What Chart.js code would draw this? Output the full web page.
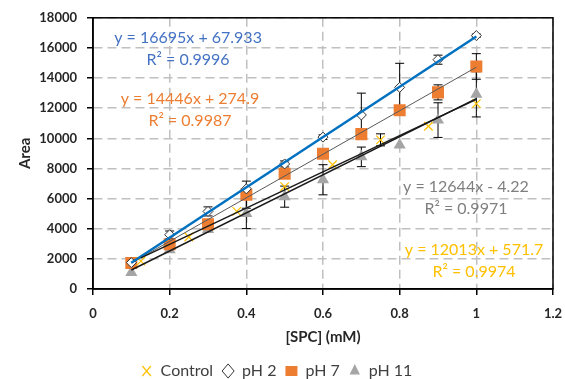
<!DOCTYPE html>
<html>
<head>
<meta charset="utf-8">
<script src="https://cdn.jsdelivr.net/npm/chart.js@4.4.1/dist/chart.umd.min.js"></script>
<style>
html, body { margin: 0; padding: 0; background: #fff; }
</style>
</head>
<body>
<canvas id="grafica" width="565" height="379"></canvas>
<script>
// concentraciones [SPC] (mM)
const xPh = [0.1, 0.2, 0.3, 0.4, 0.5, 0.6, 0.7, 0.8, 0.9, 1.0];
const xControl = [0.125, 0.25, 0.375, 0.5, 0.625, 0.75, 0.875, 1.0];

// areas
const control = [1850, 3450, 5150, 6800, 8250, 9900, 10800, 12300];
const ph2 = [1750, 3600, 5150, 6650, 8300, 10080, 11550, 13380, 15220, 16820];
const ph7 = [1720, 2970, 4300, 6260, 7650, 8970, 10280, 11870, 13050, 14770];
const ph11 = [1100, 2600, 3950, 5010, 6130, 7250, 8770, 9560, 11210, 12920];

// barras de error (+/-)
const controlErr = [0, 0, 0, 0, 0, 400, 0, 0];
const ph2Err = [0, 250, 300, 0, 200, 150, 1450, 1600, 300, 100];
const ph7Err = [0, 0, 0, 900, 300, 0, 0, 0, 500, 850];
const ph11Err = [0, 0, 0, 1000, 700, 1000, 650, 0, 1150, 1500];

// lineas de tendencia (extremos)
const trendX = [0.1, 1.0];
const trendControlX = [0.125, 1.0];
const trendControl = [2070, 12590];
const trendPh2 = [1740, 16760];
const trendPh7 = [1720, 14720];
const trendPh11 = [1260, 12640];

// ecuaciones
const ecuaciones = [
  ["y = 16695x + 67.933", "R\u00B2 = 0.9996"],
  ["y = 14446x + 274.9", "R\u00B2 = 0.9987"],
  ["y = 12644x - 4.22", "R\u00B2 = 0.9971"],
  ["y = 12013x + 571.7", "R\u00B2 = 0.9974"]
];

const etiquetas = ["Control", "pH 2", "pH 7", "pH 11"];
const xTicks = [0, 0.2, 0.4, 0.6, 0.8, 1.0, 1.2];
const yTicks = [0, 2000, 4000, 6000, 8000, 10000, 12000, 14000, 16000, 18000];

const puntos = (xs, ys) => xs.map((x, i) => ({x: x, y: ys[i]}));

const errores = [
  {xs: xControl, ys: control, err: controlErr},
  {xs: xPh, ys: ph2, err: ph2Err},
  {xs: xPh, ys: ph7, err: ph7Err},
  {xs: xPh, ys: ph11, err: ph11Err}
];

// posicion de las ecuaciones (en unidades del grafico) y color
const posEcuaciones = [
  {x: 0.248, y: 16680, color: "#4472C4"},
  {x: 0.253, y: 12590, color: "#ED7D31"},
  {x: 0.973, y: 6790, color: "#7F7F7F"},
  {x: 0.994, y: 2570, color: "#FFC000"}
];

const pluginErrores = {
  id: "errores",
  beforeDatasetsDraw(chart) {
    const ctx = chart.ctx;
    const sx = chart.scales.x, sy = chart.scales.y;
    ctx.save();
    ctx.strokeStyle = "#000";
    ctx.lineWidth = 1;
    errores.forEach(s => {
      s.xs.forEach((x, i) => {
        const e = s.err[i];
        if (!e) return;
        const px = sx.getPixelForValue(x);
        const top = sy.getPixelForValue(s.ys[i] + e);
        const bot = sy.getPixelForValue(s.ys[i] - e);
        ctx.beginPath();
        ctx.moveTo(px, top); ctx.lineTo(px, bot);
        ctx.moveTo(px - 4.5, top); ctx.lineTo(px + 4.5, top);
        ctx.moveTo(px - 4.5, bot); ctx.lineTo(px + 4.5, bot);
        ctx.stroke();
      });
    });
    ctx.restore();
  },
  afterDraw(chart) {
    const ctx = chart.ctx;
    const a = chart.chartArea;
    ctx.save();
    ctx.strokeStyle = "#000";
    ctx.lineWidth = 1.5;
    ctx.strokeRect(a.left, a.top, a.right - a.left, a.bottom - a.top);
    ctx.font = "16px Lato";
    ctx.textAlign = "center";
    ctx.textBaseline = "middle";
    posEcuaciones.forEach((p, i) => {
      const px = chart.scales.x.getPixelForValue(p.x);
      const py = chart.scales.y.getPixelForValue(p.y);
      ctx.fillStyle = p.color;
      ctx.fillText(ecuaciones[i][0], px, py);
      ctx.fillText(ecuaciones[i][1], px, py + 22);
    });
    ctx.restore();
  }
};

const tendencia = (xs, ys, color, ancho) => ({
  type: "line",
  data: puntos(xs, ys),
  borderColor: color,
  borderWidth: ancho,
  pointRadius: 0,
  showLine: true,
  fill: false,
  order: 0
});

const rejilla = {color: "#C0C0C0", lineWidth: 1.5, borderDash: [9, 5], tickColor: "#000", tickLength: 6, tickWidth: 1.5};
const borde = {color: "#000", width: 1.5, dash: [9, 5]};

const config = {
  type: "scatter",
  data: {
    datasets: [
      {label: etiquetas[0], data: puntos(xControl, control), pointStyle: "crossRot", pointRadius: 6,
        borderColor: "#FFC000", backgroundColor: "#FFC000", pointBorderWidth: 1.2, order: 1},
      {label: etiquetas[1], data: puntos(xPh, ph2), pointStyle: "rectRot", pointRadius: 5,
        borderColor: "#333333", backgroundColor: "#fff", pointBorderWidth: 1, order: 1},
      {label: etiquetas[2], data: puntos(xPh, ph7), pointStyle: "rect", pointRadius: 8.5,
        borderColor: "#ED7D31", backgroundColor: "#ED7D31", pointBorderWidth: 0, order: 1},
      {label: etiquetas[3], data: puntos(xPh, ph11), pointStyle: "triangle", pointRadius: 7,
        borderColor: "#A5A5A5", backgroundColor: "#A5A5A5", pointBorderWidth: 0, order: 1},
      tendencia(trendControlX, trendControl, "#1a1a1a", 1.5),
      tendencia(trendX, trendPh2, "#0070C0", 2.5),
      tendencia(trendX, trendPh7, "#595959", 1),
      tendencia(trendX, trendPh11, "#1a1a1a", 1.5)
    ]
  },
  options: {
    responsive: false,
    animation: false,
    layout: {padding: {top: 15, right: 12, left: 0, bottom: -10}},
    plugins: {
      tooltip: {enabled: false},
      legend: {
        position: "bottom",
        labels: {
          usePointStyle: true,
          boxHeight: 10,
          pointStyleWidth: 12,
          color: "#404040",
          font: {family: "Lato", size: 16},
          padding: 9,
          filter: item => item.datasetIndex < 4
        }
      }
    },
    scales: {
      x: {
        type: "linear",
        min: 0, max: 1.2,
        afterBuildTicks: s => { s.ticks = xTicks.map(v => ({value: v})); },
        afterFit: s => { s.height = 65; s.paddingRight = 10; s.paddingLeft = 0; },
        ticks: {
          color: "#262626",
          font: {family: "Lato", size: 13, weight: "bold"},
          padding: 11,
          callback: v => String(Math.round(v * 10) / 10)
        },
        grid: rejilla,
        border: borde,
        title: {display: true, text: "[SPC] (mM)", color: "#262626",
          font: {family: "Lato", size: 15, weight: "bold"}, padding: {top: 0, bottom: 8}}
      },
      y: {
        min: 0, max: 18000,
        afterBuildTicks: s => { s.ticks = yTicks.map(v => ({value: v})); },
        afterFit: s => { s.width = 93; },
        ticks: {
          color: "#262626",
          font: {family: "Lato", size: 13, weight: "bold"},
          padding: 10,
          callback: v => String(v)
        },
        grid: rejilla,
        border: borde,
        title: {display: true, text: "Area", color: "#262626",
          font: {family: "Lato", size: 15, weight: "bold"}, padding: {top: 16, bottom: 0}}
      }
    }
  },
  plugins: [pluginErrores]
};

new Chart(document.getElementById("grafica"), config);
</script>
</body>
</html>
